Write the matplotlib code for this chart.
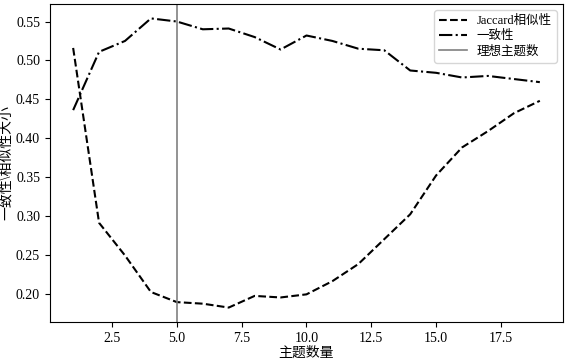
import matplotlib
matplotlib.use("Agg")
import matplotlib.pyplot as plt

plt.rcParams['font.family'] = ['Liberation Serif', 'Noto Sans CJK SC']
plt.rcParams['axes.unicode_minus'] = False

topics = list(range(1, 20))
jaccard = [0.516, 0.291, 0.249, 0.202, 0.189, 0.187, 0.182, 0.197, 0.195, 0.199,
           0.216, 0.238, 0.270, 0.302, 0.352, 0.388, 0.409, 0.432, 0.448]
coherence = [0.436, 0.511, 0.525, 0.554, 0.550, 0.540, 0.541, 0.530, 0.514, 0.532,
             0.525, 0.515, 0.513, 0.487, 0.484, 0.478, 0.480, 0.476, 0.472]
ideal_k = 5

fig = plt.figure(figsize=(5.66, 3.59), dpi=100)
ax = fig.add_axes([0.088, 0.103, 0.907, 0.886])
ax.plot(topics, jaccard, linestyle='--', color='black', linewidth=1.5, label='Jaccard相似性')
ax.plot(topics, coherence, linestyle='-.', color='black', linewidth=1.5, label='一致性')
ax.axvline(ideal_k, color='gray', linewidth=1.2, label='理想主题数')
ax.set_xlabel('主题数量', labelpad=1)
ax.set_ylabel('一致性\\相似性大小', labelpad=2)
ax.set_xticks([2.5, 5.0, 7.5, 10.0, 12.5, 15.0, 17.5])
ax.set_yticks([0.20, 0.25, 0.30, 0.35, 0.40, 0.45, 0.50, 0.55])
ax.legend(loc='upper right', fontsize=9, labelspacing=0.25, handlelength=2.2,
          borderpad=0.4, borderaxespad=0.5)
fig.savefig('out.png', dpi=100)
